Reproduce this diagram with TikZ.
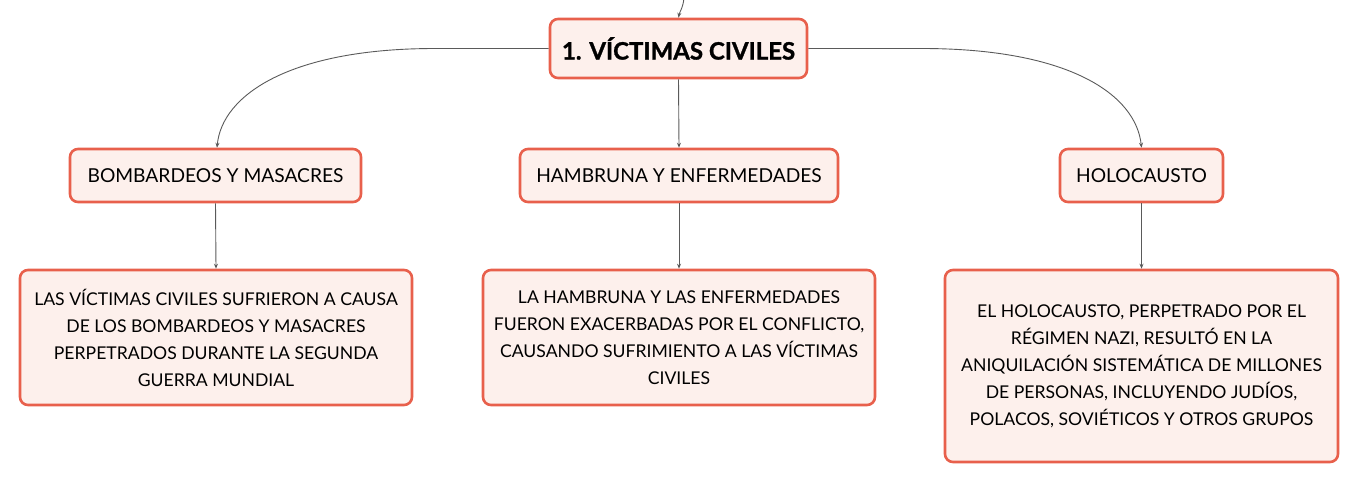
\documentclass[tikz,border=0pt]{standalone}
\usepackage{fontspec}
\setmainfont{Lato}
\newfontfamily\heavyfont{Lato}[UprightFont=* Bold, FakeBold=1.2]
\usetikzlibrary{arrows.meta}
\definecolor{boxline}{HTML}{E8604C}
\definecolor{boxfill}{HTML}{FDF0EC}
\definecolor{conn}{HTML}{5A5A5A}
\tikzset{
  box/.style={draw=boxline, fill=boxfill, line width=2.6pt, rounded corners=8pt, inner sep=0pt, align=center, text=black},
  titlebox/.style={box, minimum width=257pt, minimum height=59pt, font=\fontsize{24}{28}\heavyfont},
  midbox/.style={box, minimum height=53pt, font=\fontsize{19.2}{23}\selectfont},
  leafbox/.style={box, font=\fontsize{17.6}{27}\selectfont},
  conn/.style={draw=conn, line width=0.9pt, -{Stealth[length=5pt,width=4pt]}},
}
\begin{document}
\begin{tikzpicture}[x=1pt,y=-1pt]
\useasboundingbox (0,0) rectangle (1359,483);
\node[titlebox] (t) at (678.5,48.5) {1. VÍCTIMAS CIVILES};
\node[midbox, minimum width=291pt] (a) at (215.5,175.5) {BOMBARDEOS Y MASACRES};
\node[midbox, minimum width=318pt] (b) at (679,175.5) {HAMBRUNA Y ENFERMEDADES};
\node[midbox, minimum width=163pt] (c) at (1141.5,175.5) {HOLOCAUSTO};
\node[leafbox, minimum width=392pt, minimum height=135pt] (a1) at (216,337.5) {LAS VÍCTIMAS CIVILES SUFRIERON A CAUSA\\DE LOS BOMBARDEOS Y MASACRES\\PERPETRADOS DURANTE LA SEGUNDA\\GUERRA MUNDIAL};
\node[leafbox, minimum width=392pt, minimum height=135pt] (b1) at (679,337.5) {LA HAMBRUNA Y LAS ENFERMEDADES\\FUERON EXACERBADAS POR EL CONFLICTO,\\CAUSANDO SUFRIMIENTO A LAS VÍCTIMAS\\CIVILES};
\node[leafbox, minimum width=393pt, minimum height=192pt] (c1) at (1141.5,366) {EL HOLOCAUSTO, PERPETRADO POR EL\\RÉGIMEN NAZI, RESULTÓ EN LA\\ANIQUILACIÓN SISTEMÁTICA DE MILLONES\\DE PERSONAS, INCLUYENDO JUDÍOS,\\POLACOS, SOVIÉTICOS Y OTROS GRUPOS};
\coordinate (top) at (684,-2);
\coordinate (lbend) at (435,48.5);
\coordinate (rbend) at (922,48.5);
\draw[conn] (top) .. controls (683,8) and (679.5,12) .. (t.north);
\draw[conn] (t.west) -- (lbend) .. controls (290,48.5) and (222,95) .. ([xshift=1.5pt]a.north);
\draw[conn] (t.east) -- (rbend) .. controls (1070,48.5) and (1136,95) .. (c.north);
\draw[conn] (t.south) -- (b.north);
\draw[conn] (a.south) -- (a1.north);
\draw[conn] (b.south) -- (b1.north);
\draw[conn] (c.south) -- (c1.north);
\end{tikzpicture}
\end{document}
